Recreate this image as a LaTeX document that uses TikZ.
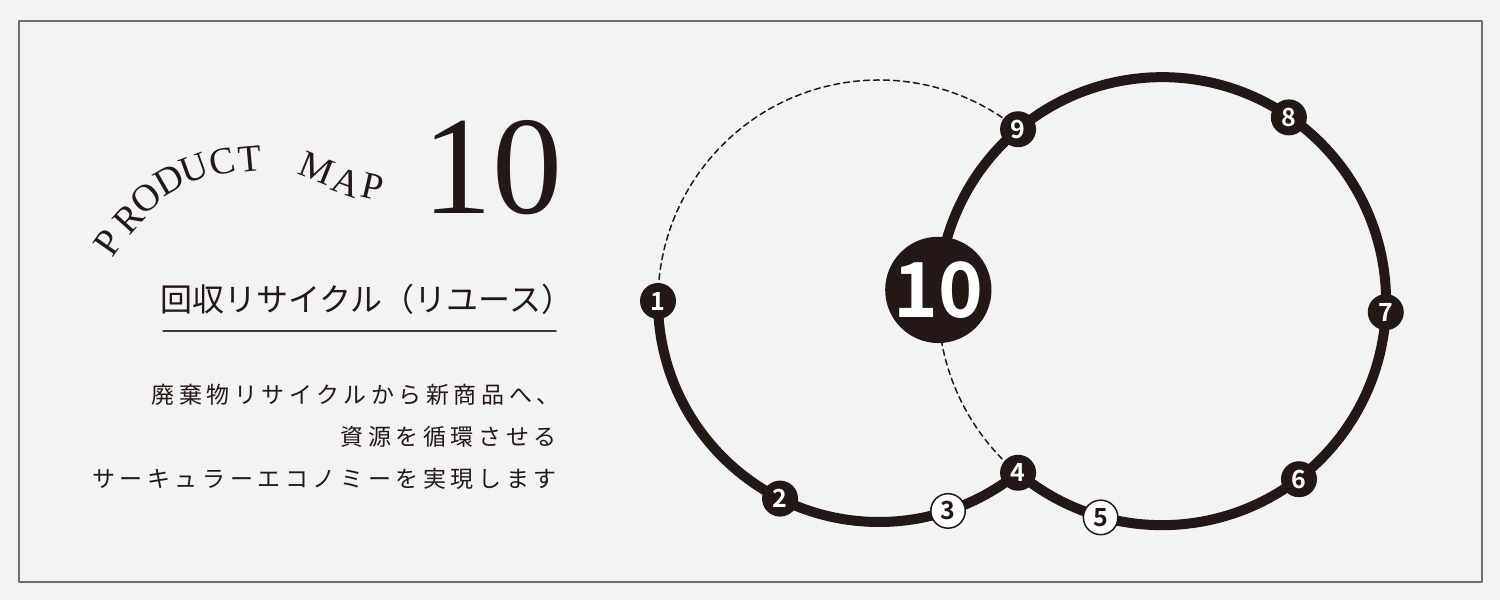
\documentclass[tikz,border=0pt]{standalone}
\usepackage{fontspec}
\setmainfont{Liberation Serif}
\newfontfamily\jpfont{Noto Sans CJK JP}
\newfontfamily\jpbody[LetterSpace=20]{Noto Sans CJK JP}
\IfFontExistsTF{Noto Sans CJK JP Bold}
  {\newfontfamily\numfont{Noto Sans CJK JP Bold}}
  {\newfontfamily\numfont{DejaVu Sans Bold}}
\usetikzlibrary{calc}
\definecolor{ink}{HTML}{231815}
\definecolor{paper}{HTML}{F3F3F3}
\definecolor{framegray}{HTML}{6E6E6E}
\tikzset{
  stopdot/.style={circle, fill=ink, text=white, minimum size=36pt, inner sep=0pt,
    font=\numfont\fontsize{25}{25}\selectfont},
  stopopen/.style={stopdot, fill=white, draw=ink, line width=1.5pt, text=ink, minimum size=34.5pt},
  hub/.style={stopdot, minimum size=98pt, font=\numfont\fontsize{76}{76}\selectfont},
  route/.style={ink, line width=10pt},
  dashroute/.style={ink, line width=1.5pt, dash pattern=on 6pt off 4pt},
  arcletter/.style={inner sep=0pt, text=ink, font=\fontsize{38}{38}\selectfont},
  bodyline/.style={anchor=base east, inner sep=0pt, text=ink, font=\jpbody\fontsize{23}{23}\selectfont},
}
\begin{document}
\begin{tikzpicture}[x=1pt, y=1pt, line cap=round, line join=round]
\def\rl{221} \def\rr{224} % radii
\fill[paper] (0,0) rectangle (1500,600);
\draw[framegray, line width=1.5pt] (19,18) rectangle (1482,579);
\useasboundingbox (0,0) rectangle (1500,600);
\coordinate (cl) at (879,299);
\coordinate (cr) at (1162,298);
% stops on the left ring
\coordinate (p1) at ($(cl)+(180:\rl)$);
\coordinate (p2) at ($(cl)+(243.4:\rl)$);
\coordinate (p3) at ($(cl)+(288.2:\rl)$);
\coordinate (p4) at ($(cl)+(-51:\rl)$);
\coordinate (p9) at ($(cl)+(51:\rl)$);
% stops on the right ring
\coordinate (p5) at ($(cr)+(254.1:\rr)$);
\coordinate (p6) at ($(cr)+(307.7:\rr)$);
\coordinate (p7) at ($(cr)+(357.4:\rr)$);
\coordinate (p8) at ($(cr)+(55.5:\rr)$);
\coordinate (p10) at ($(cr)+(176.9:\rr)$);
\draw[route] (p1) arc[start angle=180, end angle=309, radius=\rl pt];
\draw[route] (p4) arc[start angle=230, end angle=536.9, radius=\rr pt];
\draw[dashroute] (p9) arc[start angle=51, end angle=180, radius=\rl pt];
\draw[dashroute] (p10) arc[start angle=176.9, end angle=230, radius=\rr pt];
\foreach \i in {1,2,4,6,7,8,9}
  \node[stopdot] (n\i) at (p\i) {\i};
\node[stopopen] (n3) at (p3) {3};
\node[stopopen] (n5) at (p5) {5};
\node[hub] (n10) at (p10) {10};
% title block
\foreach \ch/\x/\y/\r [count=\i] in {P/108/357/55, R/129/381/48, O/146/402/40,
    D/169/420/30, U/194/432/20, C/222/438/12, T/250/441/5,
    M/317/432/-22, A/347/418/-20, P/373/413/-13}
  \node[arcletter, rotate=\r] (pm\i) at (\x,\y) {\ch};
\node[inner sep=0pt, text=ink, font=\fontsize{140}{140}\selectfont] (bignum) at (492,432) {10};
\node[anchor=base west, inner sep=0pt, text=ink, font=\jpfont\fontsize{32}{32}\selectfont]
  (title) at (160,288) {回収リサイクル（リユース）};
\draw[ink!85, line width=1.5pt] (163,269) -- (556,269);
\node[bodyline] (line1) at (560,196.5) {廃棄物リサイクルから新商品へ、};
\node[bodyline] (line2) at (557,154.5) {資源を循環させる};
\node[bodyline] (line3) at (557,112.5) {サーキュラーエコノミーを実現します};
\end{tikzpicture}
\end{document}
